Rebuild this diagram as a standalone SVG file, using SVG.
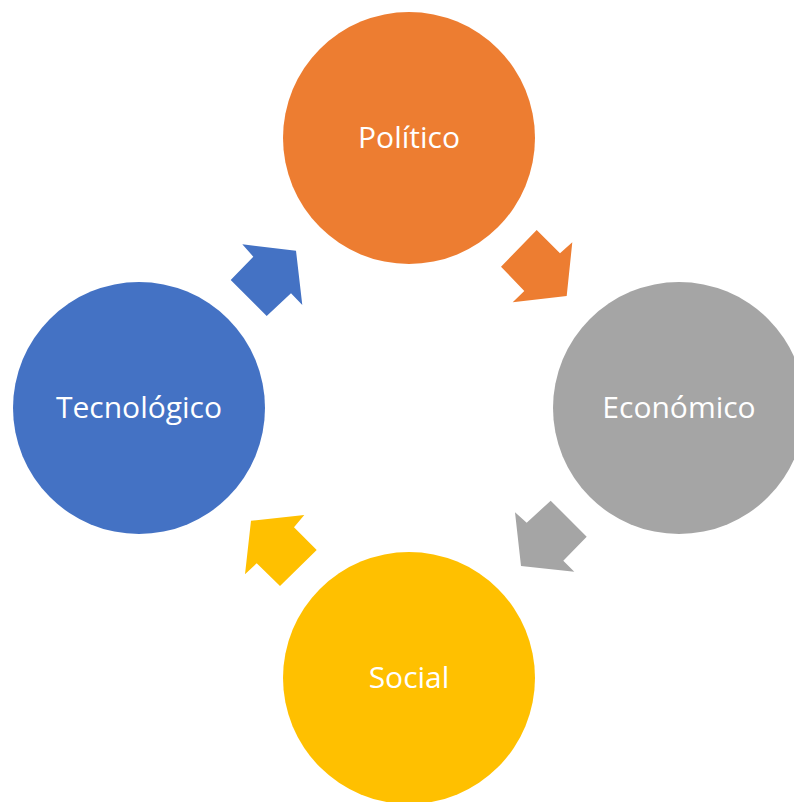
<svg xmlns="http://www.w3.org/2000/svg" width="794" height="802" viewBox="0 0 794 802">
<style>
.lbl{font-family:"Open Sans","Noto Sans",sans-serif;font-size:30px;fill:#fff;text-anchor:middle}
</style>
<rect width="794" height="802" fill="#fff"/>
<g id="politico"><circle cx="409" cy="138" r="126" fill="#ED7D31"/><text class="lbl" x="409" y="148">Político</text></g>
<g id="economico"><circle cx="679" cy="408" r="126" fill="#A5A5A5"/><text class="lbl" x="679" y="418">Económico</text></g>
<g id="social"><circle cx="409" cy="678" r="126" fill="#FFC000"/><text class="lbl" x="409" y="688">Social</text></g>
<g id="tecnologico"><circle cx="139" cy="408" r="126" fill="#4472C4"/><text class="lbl" x="139" y="418">Tecnológico</text></g>
<g id="connectors">
<polygon fill="#ED7D31" points="536.7,230 560,253.3 572.3,242.3 566.7,296 512.7,302.3 524.3,291 501,266.7"/>
<polygon fill="#A5A5A5" points="550.7,500.7 586.7,536.7 563.3,560.7 574.3,571.7 521,566 515,512.3 526.7,522.7"/>
<polygon fill="#FFC000" points="316.7,550 280,586 256.7,563.3 245,574.3 251,520.7 304.3,515 294,527.3"/>
<polygon fill="#4472C4" points="266.7,316 230.7,280 253.3,256.7 242.3,244.3 296,250.7 302.3,305 291,293.3"/>
</g>
</svg>
